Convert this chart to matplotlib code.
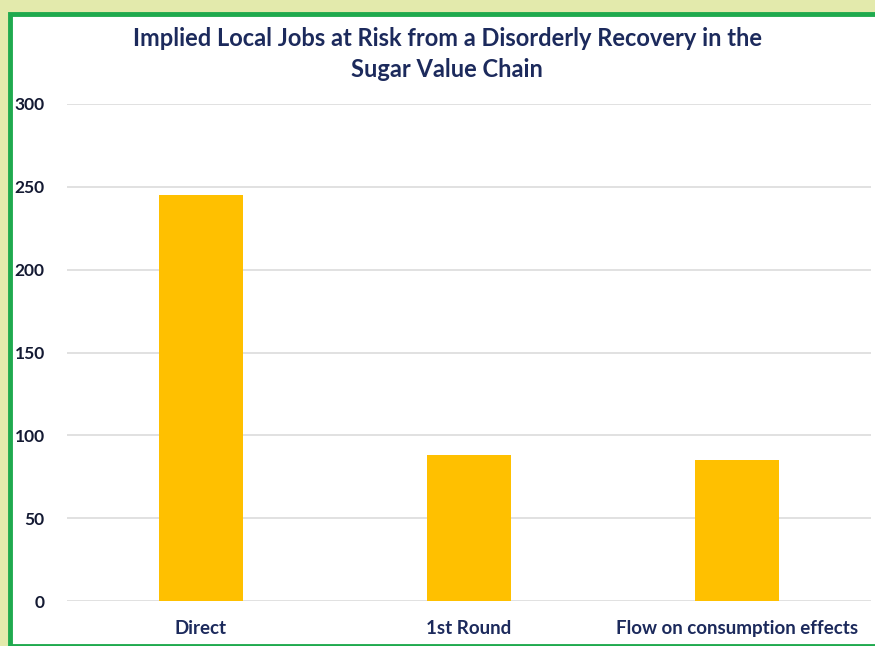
import matplotlib.pyplot as plt
from matplotlib.patches import Rectangle

categories = ["Direct", "1st Round", "Flow on consumption effects"]
jobs = [245, 88, 85]
yticks = [0, 50, 100, 150, 200, 250, 300]

title = "Implied Local Jobs at Risk from a Disorderly Recovery in the\nSugar Value Chain"
navy = "#1c2a5c"
bar_color = "#ffc000"

plt.rcParams['font.family'] = ['Lato', 'DejaVu Sans']

W, H = 875, 646
fig = plt.figure(figsize=(W / 100, H / 100), dpi=100)
fig.patch.set_facecolor("#e3eaac")

# white panel with green frame (runs off the right edge)
bg = fig.add_axes([0, 0, 1, 1], zorder=-1)
bg.set_xlim(0, W)
bg.set_ylim(H, 0)
bg.axis("off")
bg.add_patch(Rectangle((10, 14), W + 20, H - 14, facecolor="white",
                       edgecolor="#1faa4e", linewidth=3.5))

ax = fig.add_axes([67 / W, (H - 601) / H, (871 - 67) / W, (601 - 104) / H])
ax.set_facecolor("none")

x = range(len(categories))
ax.bar(x, jobs, width=0.315, color=bar_color, zorder=3)

ax.set_xlim(-0.5, len(categories) - 0.5)
ax.set_ylim(0, 300)
ax.set_yticks(yticks)
ax.set_xticks(list(x))
ax.set_xticklabels(categories)
ax.yaxis.grid(True, color="#d9d9d9", linewidth=1.1, zorder=0)
ax.set_axisbelow(True)

for s in ax.spines.values():
    s.set_visible(False)
ax.tick_params(length=0)
ax.tick_params(axis="y", pad=16)
ax.tick_params(axis="x", pad=14)
for lab in ax.get_xticklabels():
    lab.set_fontweight("bold")
    lab.set_fontsize(13.5)
    lab.set_color(navy)
for lab in ax.get_yticklabels():
    lab.set_fontweight("bold")
    lab.set_fontsize(12.5)
    lab.set_color("#141a33")

fig.text(447 / W, 1 - 54 / H, title, ha="center", va="center", fontsize=17,
         fontweight="bold", color=navy, linespacing=1.45)

fig.savefig("out.png", dpi=100)
